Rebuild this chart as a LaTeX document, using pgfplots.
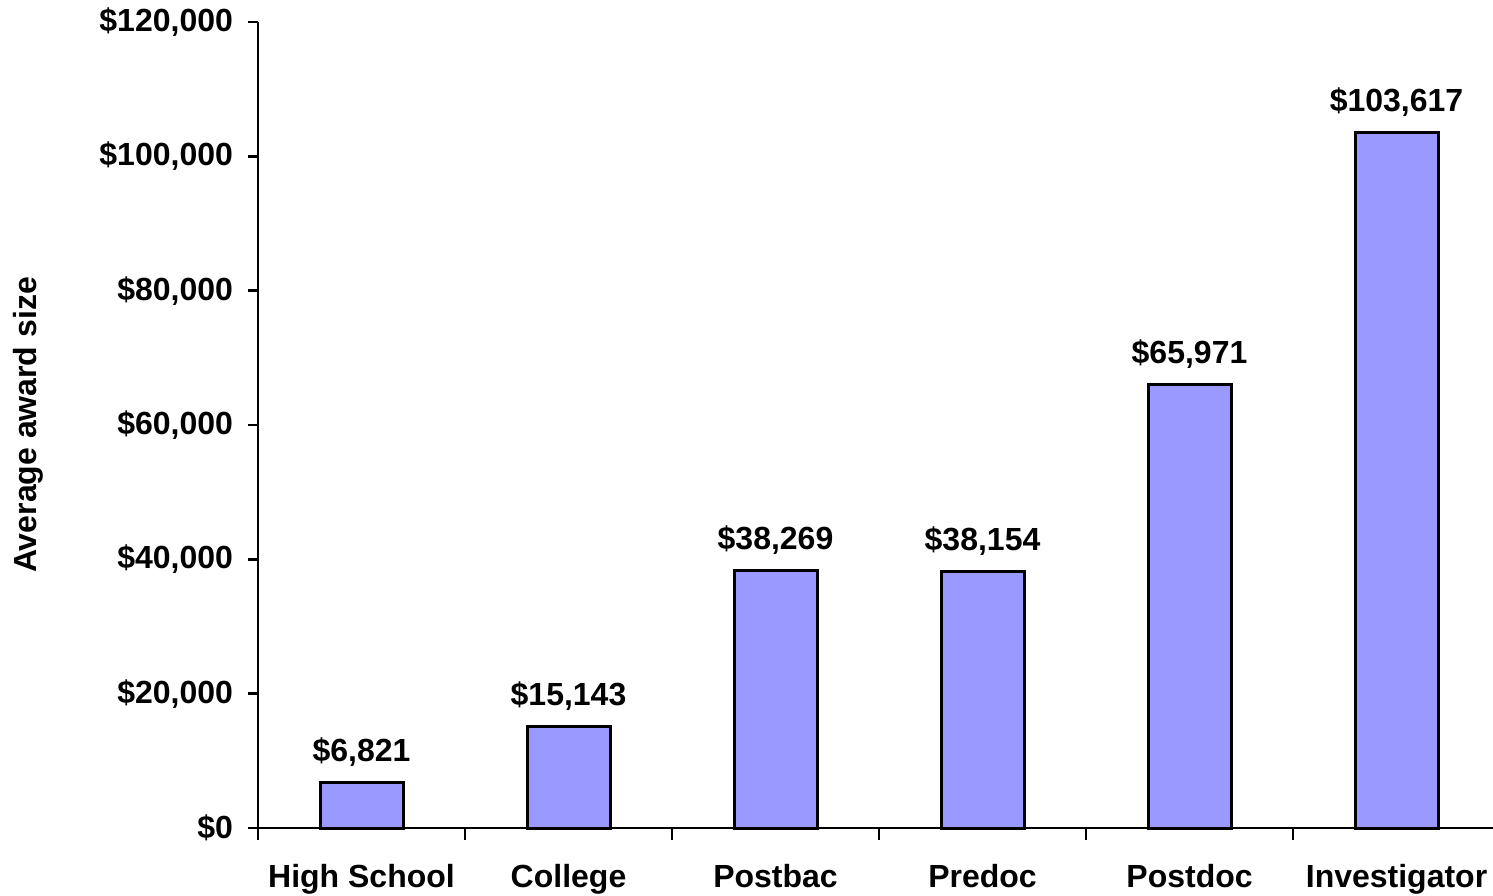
\documentclass[border=0pt]{standalone}
\usepackage{fontspec}
\setmainfont{Liberation Sans}
\usepackage{pgfplots}
\pgfplotsset{compat=1.18}
\definecolor{barblue}{HTML}{9999FF}
\begin{document}
\begin{tikzpicture}
\begin{axis}[name=ax, scale only axis, width=617.5pt, height=403pt,
  xmin=-0.5, xmax=5.466, ymin=0, ymax=120000,
  axis x line*=bottom, axis y line*=left,
  axis line style={line width=1.2pt, -},
  tick style={black, line width=1.2pt},
  tick align=outside,
  major tick length=5pt, minor tick length=6pt,
  xtick={0,...,5},
  xticklabels={High School,College,Postbac,Predoc,Postdoc,Investigator},
  minor xtick={-0.5,0.5,1.5,2.5,3.5,4.5},
  major x tick style={draw=none},
  ytick={0,20000,40000,60000,80000,100000,120000},
  yticklabel={\$\pgfmathprintnumber[fixed,precision=0,1000 sep={,},assume math mode=true]{\tick}},
  scaled y ticks=false,
  tick label style={font=\fontsize{16}{19}\selectfont\bfseries},
  xticklabel style={anchor=base, yshift=-24.5pt},
  yticklabel style={anchor=east, xshift=-4pt},
  ylabel={Average award size},
  ylabel style={font=\fontsize{16}{19}\selectfont\bfseries, at={(axis description cs:0,0.5)}, anchor=center, yshift=115pt},
  nodes near coords={\$\pgfmathprintnumber[fixed,precision=0,1000 sep={,},assume math mode=true]{\pgfplotspointmeta}},
  nodes near coords style={font=\fontsize{16}{19}\selectfont\bfseries, anchor=base, yshift=10.5pt},
  ybar, bar width=41.5pt,
  clip=false,
]
\addplot[fill=barblue, draw=black, line width=1.5pt] coordinates {
  (0,6821) (1,15143) (2,38269) (3,38154) (4,65971) (5,103617)
};
\end{axis}
\pgfresetboundingbox
\path ([xshift=-129pt,yshift=-33.5pt]ax.south west) rectangle ([yshift=11pt]ax.north east);
\end{tikzpicture}
\end{document}
